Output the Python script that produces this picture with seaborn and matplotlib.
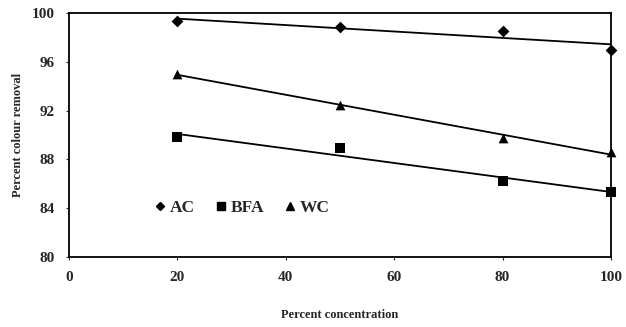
import matplotlib
matplotlib.use("Agg")
import matplotlib.pyplot as plt
import seaborn as sns
import numpy as np

# Colour removal (%) at each effluent concentration (%)
concentration = [20, 50, 80, 100]
ac = [99.35, 98.85, 98.5, 97.0]
bfa = [89.8, 88.9, 86.2, 85.35]
wc = [95.0, 92.5, 89.75, 88.6]

series = [("AC", ac, "D", 6), ("BFA", bfa, "s", 7), ("WC", wc, "^", 7)]
x_ticks = [0, 20, 40, 60, 80, 100]
y_ticks = [80, 84, 88, 92, 96, 100]

sns.set_style("ticks")
plt.rcParams["font.family"] = ["Liberation Serif", "DejaVu Serif"]
plt.rcParams["font.weight"] = "bold"

fig = plt.figure(figsize=(6.26, 3.27), dpi=100)
ax = fig.add_axes([0.110, 0.214, 0.866, 0.746])

handles = []
for name, vals, mk, ms in series:
    sns.regplot(x=concentration, y=vals, ax=ax, ci=None, truncate=True,
                marker=mk, color="black",
                scatter_kws={"s": ms ** 2, "linewidths": 0, "zorder": 3,
                             "alpha": 1, "clip_on": False},
                line_kws={"linewidth": 1.3, "zorder": 2})
    h, = ax.plot([], [], linestyle="none", marker=mk, color="black",
                 markersize=ms - 1.5, label=name)
    handles.append(h)

ax.set_xlim(0, 100)
ax.set_ylim(80, 100)
ax.set_xticks(x_ticks)
ax.set_yticks(y_ticks)
ax.tick_params(axis="both", length=2, width=0.8, labelsize=11, pad=8)
for lbl in ax.get_xticklabels() + ax.get_yticklabels():
    lbl.set_fontweight("bold")
for sp in ax.spines.values():
    sp.set_linewidth(1.3)
    sp.set_color("black")

ax.set_xlabel("Percent concentration", fontsize=9, fontweight="bold", labelpad=18)
ax.set_ylabel("Percent colour removal", fontsize=9, fontweight="bold", labelpad=6)

leg = ax.legend(handles=handles, ncol=3, frameon=False, loc="center left",
                bbox_to_anchor=(0.124, 0.20), handletextpad=0.05,
                columnspacing=1.0, handlelength=1.0,
                prop={"weight": "bold", "size": 12.5})

fig.savefig("out.png", dpi=100)
